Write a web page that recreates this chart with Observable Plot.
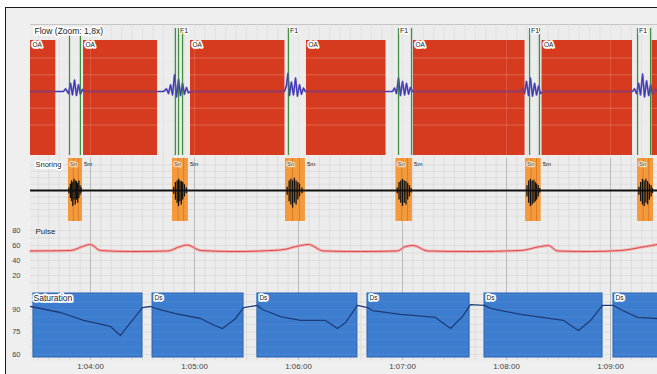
<!DOCTYPE html>
<html><head><meta charset="utf-8">
<script src="https://cdn.jsdelivr.net/npm/d3@7"></script>
<script src="https://cdn.jsdelivr.net/npm/@observablehq/plot@0.6"></script>
<style>
html,body{margin:0;padding:0;background:#fff;}
#chart{position:relative;width:657px;height:374px;overflow:hidden;background:#fff;font-family:"Liberation Sans",Arial,sans-serif;}
#frame{position:absolute;left:5px;top:7px;width:652px;height:367px;border-left:1.5px solid #1a1a1a;border-top:1.5px solid #1a1a1a;background:#efefef;box-sizing:border-box}
</style></head><body><div id="chart"><div id="frame"></div></div>
<script>
// time axis in seconds after 1:00:00
const xDomain = [205.4, 567.1];
const timeTicks = [240, 300, 360, 420, 480, 540];
const timeLabels = ["1:04:00","1:05:00","1:06:00","1:07:00","1:08:00","1:09:00"];
const gridStep = 6;

// Flow: apnea events
const apneaStart = [205.4, 236.0, 297.7, 364.6, 426.3, 500.5, 564.0];
const apneaEnd   = [220.0, 278.7, 352.2, 410.5, 490.7, 552.7, 575.0];
const apneaLabelStart = [205.4, 236.0, 297.7, 364.6, 426.3, 500.5];
const apneaLabel = "OA";
const arousalTimes = [227.9, 234.2, 289.0, 290.8, 293.1, 354.2, 417.7, 425.2, 493.3, 499.0, 555.6, 563.1];
const arousalLabelTimes = [290.8, 354.2, 417.7, 493.3, 555.6];
const arousalLabel = "F1";
const flowTime = [205.4,
  224.4,225.6,227.3,228.5,229.6,230.8,231.9,233.1,234.2,235.4,236.5,
  282.1,283.8,285.0,286.2,287.3,288.5,289.6,290.8,291.9,293.1,294.2,295.4,296.5,297.7,
  351.9,353.0,353.9,354.8,355.9,357.1,358.3,359.4,360.6,361.7,362.9,364.0,
  414.2,415.4,416.5,417.7,418.8,420.0,421.2,422.3,423.5,424.6,425.8,
  488.1,489.2,490.4,491.5,492.7,493.8,495.0,496.2,497.3,498.5,499.6,501.4,
  552.7,553.8,555.0,556.2,557.3,558.5,559.6,560.8,562.0,563.1,564.3,566.0,567.1];
const flowValue = [0,
  0,0.04,-0.03,0.12,-0.05,0.17,-0.06,0.10,-0.04,0.03,0,
  0,0.04,-0.03,0.10,-0.05,0.25,-0.08,0.18,-0.06,0.12,-0.04,0.06,-0.02,0,
  0,0.08,0.27,-0.06,0.14,-0.05,0.20,-0.07,0.10,-0.04,0.05,0,
  0,0.05,-0.03,0.20,-0.06,0.15,-0.05,0.12,-0.04,0.06,0,
  0,0.04,-0.03,0.15,-0.06,0.20,-0.07,0.12,-0.05,0.08,-0.03,0,
  0,0.04,-0.03,0.12,-0.05,0.26,-0.08,0.16,-0.06,0.10,-0.04,0.03,0];

// Snoring
const snoreStart = [227.3, 287.3, 352.5, 416.2, 491.0, 555.6];
const snoreEnd   = [235.4, 296.5, 364.0, 425.8, 500.0, 564.8];
const snoreLabelStart = [227.3, 287.3, 352.5, 416.2, 491.0, 555.6];
const snoreNoteEnd = [235.4, 296.5, 364.0, 425.8, 500.0];
const snoreTag = "Sn";
const snoreNote = "5m";
const spikeTime = [
  227.6,228.4,229.1,229.8,230.5,231.2,231.9,232.6,233.3,234.0,234.7,
  288.0,289.0,290.0,290.8,291.6,292.4,293.2,294.2,295.3,
  353.5,354.6,355.6,356.6,357.6,358.6,359.6,360.6,362.0,
  417.0,418.0,419.0,420.0,421.0,422.0,423.0,424.0,425.0,
  491.8,492.8,493.8,494.8,495.8,496.6,497.4,498.3,499.2,
  556.4,557.4,558.4,559.4,560.4,561.4,562.4,563.4,564.2];
const spikeHigh = [
  0.08,0.2,0.3,0.25,0.35,0.3,0.28,0.22,0.3,0.15,0.08,
  0.1,0.25,0.3,0.35,0.3,0.28,0.25,0.18,0.08,
  0.1,0.3,0.35,0.3,0.38,0.3,0.25,0.2,0.08,
  0.08,0.25,0.3,0.35,0.3,0.28,0.22,0.15,0.06,
  0.15,0.3,0.35,0.3,0.32,0.25,0.2,0.15,0.06,
  0.1,0.25,0.35,0.3,0.35,0.28,0.2,0.15,0.06];
const spikeLow = [
  -0.1,-0.25,-0.35,-0.5,-0.3,-0.45,-0.3,-0.4,-0.25,-0.15,-0.08,
  -0.12,-0.3,-0.4,-0.5,-0.35,-0.45,-0.3,-0.2,-0.1,
  -0.15,-0.35,-0.45,-0.55,-0.4,-0.45,-0.3,-0.2,-0.1,
  -0.1,-0.3,-0.4,-0.5,-0.4,-0.45,-0.3,-0.2,-0.08,
  -0.2,-0.4,-0.5,-0.45,-0.4,-0.35,-0.3,-0.2,-0.08,
  -0.15,-0.35,-0.45,-0.5,-0.4,-0.45,-0.3,-0.2,-0.1];

// Pulse
const pulseTime = [205.4,228.5,235.4,240.0,245.8,263.1,284.4,291.9,296.0,303.5,322.5,349.6,361.2,365.8,374.4,395.8,417.1,421.7,426.3,434.4,459.2,488.1,499.6,504.2,509.4,528.5,545.8,560.2,567.1];
const pulseValue = [52.7,53.3,58.7,61.3,53.3,52.0,52.7,58.7,60.7,53.3,52.0,54.0,60.0,61.3,52.7,52.0,52.7,58.7,60.0,52.7,52.0,53.3,58.7,60.0,52.7,52.0,53.3,58.7,61.3];
const pulseTicks = [80, 60, 40, 20];

// Saturation
const desatStart = [207.1, 275.8, 336.3, 399.8, 467.3, 541.7];
const desatEnd   = [270.0, 328.3, 394.0, 458.7, 535.4, 575.0];
const desatTag = "Ds";
const spo2Time = [205.4,222.7,236.0,251.5,257.3,263.1,270.0,274.6,
  277.5,289.0,303.5,310.4,316.2,323.7,328.3,336.3,
  339.2,349.6,361.2,375.6,382.5,387.1,394.0,399.8,
  402.7,418.8,439.0,447.7,454.6,459.2,467.3,
  470.8,488.1,512.9,521.5,528.5,535.4,541.7,
  545.8,555.6,567.1];
const spo2Value = [92.0,88.0,82.7,78.7,72.7,81.3,91.3,92.0,
  90.7,87.3,84.0,80.0,77.3,84.0,91.3,92.7,
  90.0,85.3,82.7,82.7,77.3,81.3,92.7,91.3,
  89.3,86.7,84.7,77.3,85.3,93.3,92.7,
  90.7,86.7,82.7,76.0,82.7,92.7,92.7,
  90.0,84.7,84.0];
const spo2Ticks = [90, 75, 60];

// ---------- build ----------
const W = 657;
const FONT = "'Liberation Sans', Arial, sans-serif";
const flow = flowTime.map((t, i) => ({t, v: flowValue[i]}));
const apneas = apneaStart.map((s, i) => ({s, e: apneaEnd[i]}));
const snores = snoreStart.map((s, i) => ({s, e: snoreEnd[i]}));
const spikes = spikeTime.map((t, i) => ({t, lo: spikeLow[i], hi: spikeHigh[i]}));
const pulse = pulseTime.map((t, i) => ({t, v: pulseValue[i]}));
const desats = desatStart.map((s, i) => ({s, e: desatEnd[i]}));
const spo2 = spo2Time.map((t, i) => ({t, v: spo2Value[i]}));
const gridTimes = d3.range(Math.ceil(xDomain[0] / gridStep) * gridStep, xDomain[1], gridStep);

const common = (h, extra = {}) => ({
  width: W, height: h, marginLeft: 30, marginRight: 0, marginTop: 0, marginBottom: 0,
  x: {domain: xDomain, axis: null},
  style: {background: "transparent", fontFamily: FONT, overflow: "visible"},
  ...extra
});
const labelOpts = {fontSize: 7.5, fill: "#222", stroke: "white", strokeWidth: 3.5, textAnchor: "start", lineAnchor: "top"};
const gridV = (stroke) => Plot.gridX(gridTimes, {stroke, strokeOpacity: 1, strokeWidth: 0.6});
const minuteV = Plot.gridX(timeTicks, {stroke: "#b2b2b2", strokeOpacity: 1, strokeWidth: 0.8});

const flowPlot = Plot.plot(common(134, {
  y: {domain: [-1, 1], axis: null},
  marks: [
    Plot.frame({fill: "#ececec", stroke: null}),
    Plot.ruleY([1], {stroke: "#c4c4c4", strokeWidth: 1}),
    gridV("#dadada"),
    Plot.line(flow, {x: "t", y: "v", stroke: "#3434b4", strokeWidth: 1.2}),
    Plot.rect(apneas, {x1: "s", x2: "e", fill: "#d63b1f", insetTop: 16, insetBottom: 3, clip: true}),
    Plot.gridY([-0.5, -0.25, 0.25, 0.5], {stroke: "white", strokeOpacity: 0.22, strokeWidth: 1}),
    Plot.gridX(timeTicks, {stroke: "white", strokeOpacity: 0.15, strokeWidth: 1}),
    Plot.ruleX(arousalTimes, {stroke: "#3f8f3f", strokeWidth: 1.3, insetTop: 4, insetBottom: 3}),
    Plot.line(flow, {x: "t", y: "v", stroke: "#4a3ab8", strokeWidth: 2, strokeOpacity: 0.5}),
    Plot.text(apneaLabelStart, {x: d => d, text: () => apneaLabel, frameAnchor: "top", dy: 18, dx: 2, ...labelOpts, fontSize: 6.5}),
    Plot.text(arousalLabelTimes, {x: d => d, text: () => arousalLabel, frameAnchor: "top", dy: 4, dx: 1.5, ...labelOpts, fontSize: 7, strokeWidth: 2.5}),
    Plot.text(["Flow (Zoom: 1,8x)"], {frameAnchor: "top-left", dx: 4, dy: 3, ...labelOpts, fontSize: 8.5})
  ]
}));

const snorePlot = Plot.plot(common(64, {
  y: {domain: [-1, 1], axis: null},
  marks: [
    Plot.frame({fill: "#ececec", stroke: null}),
    gridV("#d4d4d4"),
    Plot.gridY(d3.range(-0.8, 0.81, 0.2), {stroke: "#d4d4d4", strokeOpacity: 1, strokeWidth: 0.6}),
    minuteV,
    Plot.rect(snores, {x1: "s", x2: "e", fill: "#f29a3c", insetBottom: 1}),
    Plot.ruleX(snores, {x: d => d.s + (d.e - d.s) * 0.35, stroke: "#d9731f", strokeWidth: 1, insetBottom: 1, strokeOpacity: 0.8}),
    Plot.ruleX(snores, {x: d => d.s + (d.e - d.s) * 0.7, stroke: "#d9731f", strokeWidth: 1, insetBottom: 1, strokeOpacity: 0.8}),
    Plot.ruleY([0], {stroke: "#111", strokeWidth: 2}),
    Plot.ruleX(spikes, {x: "t", y1: "lo", y2: "hi", stroke: "#111", strokeWidth: 1.3}),
    Plot.text(snoreLabelStart, {x: d => d, text: () => snoreTag, frameAnchor: "top", dy: 3, dx: 1.5, ...labelOpts, fontSize: 6, fill: "#555", stroke: "#f8d9b0", strokeWidth: 2.5}),
    Plot.text(snoreNoteEnd, {x: d => d, text: () => snoreNote, frameAnchor: "top", dy: 3.5, dx: 1.5, ...labelOpts, fontSize: 6, stroke: null}),
    Plot.text(["Snoring"], {frameAnchor: "top-left", dx: 5, dy: 3, ...labelOpts, fontSize: 7.5})
  ]
}));

const pulsePlot = Plot.plot(common(68, {
  y: {domain: [0, 90.67]},
  marks: [
    Plot.frame({fill: "#ececec", stroke: null}),
    gridV("#d4d4d4"),
    Plot.gridY(d3.range(10, 90, 10), {stroke: "#d4d4d4", strokeOpacity: 1, strokeWidth: 0.6}),
    minuteV,
    Plot.axisY(pulseTicks, {tickSize: 0, tickPadding: 10, fontSize: 7.5, fill: "#444", label: null}),
    Plot.line(pulse, {x: "t", y: "v", stroke: "#f3b3b3", strokeWidth: 3, curve: "monotone-x"}),
    Plot.line(pulse, {x: "t", y: "v", stroke: "#d94848", strokeWidth: 1, curve: "monotone-x"}),
    Plot.text(["Pulse"], {frameAnchor: "top-left", dx: 5, dy: 6, ...labelOpts, fontSize: 8, stroke: "#ececec"})
  ]
}));

const spo2Plot = Plot.plot(common(84, {
  marginBottom: 14,
  y: {domain: [56, 102.67]},
  marks: [
    Plot.frame({fill: "#ececec", stroke: null}),
    gridV("#d4d4d4"),
    Plot.gridY(d3.range(60, 102, 5), {stroke: "#d4d4d4", strokeOpacity: 1, strokeWidth: 0.6}),
    minuteV,
    Plot.rect(desats, {x1: "s", x2: "e", fill: "#3d7dcf", stroke: "#2c64b0", strokeWidth: 1, insetTop: 3, insetBottom: 3, clip: true}),
    Plot.gridY(d3.range(60, 102, 5), {stroke: "white", strokeOpacity: 0.1, strokeWidth: 0.6}),
    Plot.line(spo2, {x: "t", y: "v", stroke: "#1e3c78", strokeWidth: 1.3}),
    Plot.axisY(spo2Ticks, {tickSize: 0, tickPadding: 10, fontSize: 7.5, fill: "#444", label: null}),
    Plot.axisX(timeTicks, {tickSize: 0, tickPadding: 3, fontSize: 8, fill: "#444", label: null, tickFormat: d => timeLabels[timeTicks.indexOf(d)]}),
    Plot.text(desatStart.slice(1), {x: d => d, text: () => desatTag, frameAnchor: "top", dy: 4.5, dx: 2, ...labelOpts, fontSize: 6.5}),
    Plot.text(["Saturation"], {frameAnchor: "top-left", dx: 3, dy: 4, ...labelOpts, fontSize: 8.5})
  ]
}));

const chart = document.getElementById("chart");
[[flowPlot, 24], [snorePlot, 158], [pulsePlot, 222], [spo2Plot, 290]].forEach(([svg, top]) => {
  svg.style.position = "absolute";
  svg.style.left = "0px";
  svg.style.top = top + "px";
  chart.appendChild(svg);
});
</script>
</body></html>
